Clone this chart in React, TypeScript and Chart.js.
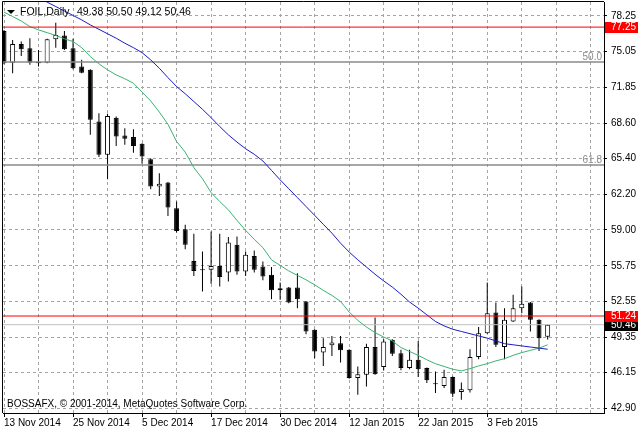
import { useEffect, useRef } from 'react';
import { Chart, registerables } from 'chart.js';

Chart.register(...registerables);

const dates = [
  '13 Nov 2014', '14 Nov 2014', '17 Nov 2014', '18 Nov 2014', '19 Nov 2014', '20 Nov 2014', '21 Nov 2014', '24 Nov 2014',
  '25 Nov 2014', '26 Nov 2014', '27 Nov 2014', '28 Nov 2014', '1 Dec 2014', '2 Dec 2014', '3 Dec 2014', '4 Dec 2014',
  '5 Dec 2014', '8 Dec 2014', '9 Dec 2014', '10 Dec 2014', '11 Dec 2014', '12 Dec 2014', '15 Dec 2014', '16 Dec 2014',
  '17 Dec 2014', '18 Dec 2014', '19 Dec 2014', '22 Dec 2014', '23 Dec 2014', '24 Dec 2014', '26 Dec 2014', '29 Dec 2014',
  '30 Dec 2014', '31 Dec 2014', '2 Jan 2015', '5 Jan 2015', '6 Jan 2015', '7 Jan 2015', '8 Jan 2015', '9 Jan 2015',
  '12 Jan 2015', '13 Jan 2015', '14 Jan 2015', '15 Jan 2015', '16 Jan 2015', '19 Jan 2015', '20 Jan 2015', '21 Jan 2015',
  '22 Jan 2015', '23 Jan 2015', '26 Jan 2015', '27 Jan 2015', '28 Jan 2015', '29 Jan 2015', '30 Jan 2015', '2 Feb 2015',
  '3 Feb 2015', '4 Feb 2015', '5 Feb 2015', '6 Feb 2015', '9 Feb 2015', '10 Feb 2015', '11 Feb 2015', '12 Feb 2015',
];

const opens = [
  76.9, 74.05, 75.73, 75.34, 74.1, 74.05, 76.15, 76.5, 75.34, 73.7, 73.4, 68.75, 65.75, 69.1, 67.5, 67.35,
  66.75, 65.35, 62.9, 63.25, 60.95, 59.05, 56.2, 55.45, 55.4, 55.75, 55.15, 57.65, 55.25, 56.65, 55.7, 54.95,
  53.55, 53.8, 53.8, 52.55, 50.0, 47.95, 48.6, 48.8, 48.2, 45.65, 45.95, 48.45, 46.65, 49.1, 47.9, 46.55,
  47.3, 46.55, 45.15, 44.95, 45.75, 44.4, 44.55, 47.55, 49.7, 51.55, 48.45, 50.75, 51.95, 52.45, 50.9, 49.38,
];
const highs = [
  77.0, 76.1, 75.95, 76.25, 75.2, 76.2, 77.65, 76.9, 76.2, 74.3, 73.45, 69.5, 69.45, 69.2, 68.15, 68.05,
  66.8, 65.45, 64.1, 63.3, 61.55, 59.45, 58.65, 57.05, 58.85, 58.65, 58.35, 58.4, 57.05, 57.15, 56.15, 55.65,
  54.25, 53.85, 55.1, 52.6, 50.05, 49.25, 49.45, 49.45, 48.25, 46.7, 48.75, 51.1, 49.15, 49.15, 48.2, 48.2,
  49.0, 46.6, 46.25, 46.4, 45.8, 45.25, 48.25, 50.25, 54.25, 52.45, 51.95, 53.15, 53.9, 52.5, 50.95, 50.5,
];
const lows = [
  73.9, 73.1, 74.65, 73.85, 73.7, 74.0, 75.4, 75.2, 73.45, 73.1, 67.55, 65.55, 63.55, 66.55, 66.65, 65.95,
  64.95, 62.65, 62.05, 60.25, 58.75, 57.25, 54.85, 53.45, 54.15, 53.9, 54.35, 54.95, 54.85, 55.15, 54.45, 52.75,
  52.7, 52.4, 51.95, 49.6, 47.45, 46.75, 47.65, 47.05, 45.6, 44.15, 44.9, 45.95, 46.35, 47.65, 46.35, 46.45,
  45.75, 45.2, 44.3, 44.75, 43.95, 43.7, 44.35, 47.35, 49.65, 48.45, 47.35, 50.7, 51.5, 49.85, 48.1, 49.12,
];
const closes = [
  74.0, 75.73, 75.25, 74.05, 74.0, 76.15, 76.55, 75.25, 73.55, 73.15, 68.9, 65.75, 69.25, 67.4, 67.2, 66.55,
  65.6, 62.9, 63.15, 61.0, 58.9, 57.65, 55.3, 55.35, 55.75, 54.75, 57.85, 55.25, 56.75, 55.4, 54.8, 53.55,
  53.75, 52.45, 52.75, 49.85, 48.05, 48.45, 48.85, 48.15, 45.65, 46.0, 48.45, 46.0, 48.95, 47.85, 46.55, 47.3,
  46.45, 45.45, 45.1, 45.75, 44.25, 44.65, 47.55, 49.7, 51.5, 48.65, 50.9, 51.95, 52.35, 50.9, 49.25, 50.46,
];

const maFast = [
  78.6, 78.2, 77.8, 77.3, 77.0, 76.75, 76.5, 76.2, 75.95, 75.4, 74.6, 73.95, 73.4, 72.95, 72.6, 72.2,
  71.4, 70.6, 69.6, 68.5, 66.95, 66.0, 64.6, 63.6, 62.35, 61.55, 60.8, 59.85, 58.95, 58.15, 57.4, 56.3,
  55.8, 55.3, 54.9, 54.5, 54.05, 53.55, 53.1, 52.55, 51.6, 50.85, 50.25, 49.75, 49.35, 49.0, 48.4, 48.05,
  47.7, 47.3, 46.95, 46.7, 46.45, 46.3, 46.5, 46.75, 46.95, 47.2, 47.4, 47.7, 47.95, 48.15, 48.35, 48.65,
];
const maSlow = [
  81.5, 81.1, 80.7, 80.3, 79.9, 79.5, 79.1, 78.7, 78.3, 77.9, 77.45, 77.05, 76.65, 76.25, 75.8, 75.4,
  74.95, 74.3, 73.55, 72.7, 71.9, 71.25, 70.55, 69.85, 69.1, 68.3, 67.55, 66.9, 66.3, 65.8, 65.2, 64.35,
  63.5, 62.7, 61.9, 61.1, 60.3, 59.5, 58.7, 57.8, 57.0, 56.3, 55.65, 55.0, 54.4, 53.85, 53.2, 52.5,
  51.95, 51.35, 50.75, 50.35, 50.05, 49.85, 49.65, 49.45, 49.25, 49.0, 48.75, 48.65, 48.55, 48.45, 48.35, 48.25,
];

const yTicks = [78.25, 75.05, 71.85, 68.6, 65.4, 62.2, 59.0, 55.75, 52.55, 49.35, 46.15, 42.9];

const symbolTitle = 'FOIL,Daily';
const titleValues = '49.38 50.50 49.12 50.46';
const copyright = 'BOSSAFX, © 2001-2014, MetaQuotes Software Corp.';

const resistanceHigh = 77.25;
const resistanceLow = 51.24;
const bidPrice = 50.46;
const fibLevels = [
  { label: '50.0', value: 74.1 },
  { label: '61.8', value: 64.83 },
];

const Y_MIN = 42.51;
const Y_MAX = 79.51;
const X_MIN = -0.116;
const X_MAX = 69.53;
const FONT = 'Liberation Sans';
const GRID = '#a4a4a4';

export default function App() {
  const ref = useRef<HTMLCanvasElement | null>(null);

  useEffect(() => {
    const canvas = ref.current;
    if (!canvas) return;
    Chart.defaults.font.family = FONT;

    const idx = dates.map((_, i) => i);
    const bodies = idx.map((i) => ({ x: i, y: [Math.min(opens[i], closes[i]), Math.max(opens[i], closes[i])] }));
    const wicks = idx.map((i) => ({ x: i, y: [lows[i], highs[i]] }));
    const bodyColors = idx.map((i) => (closes[i] > opens[i] ? '#ffffff' : '#000000'));
    const hline = (v: number) => [
      { x: X_MIN - 2, y: v },
      { x: X_MAX + 2, y: v },
    ];

    const overlay = {
      id: 'overlay',
      beforeDraw(chart: any) {
        const c = chart.ctx;
        c.save();
        c.fillStyle = '#ffffff';
        c.fillRect(0, 0, chart.width, chart.height);
        c.restore();
      },
      afterDraw(chart: any) {
        const c = chart.ctx;
        const area = chart.chartArea;
        const yS = chart.scales.y;
        c.save();
        // left and top frame
        c.strokeStyle = '#000';
        c.lineWidth = 1;
        c.beginPath();
        c.moveTo(area.left - 0.5, area.top - 0.5);
        c.lineTo(area.left - 0.5, area.bottom);
        c.moveTo(area.left - 0.5, area.top - 0.5);
        c.lineTo(area.right, area.top - 0.5);
        c.stroke();

        // title
        c.fillStyle = '#000';
        c.beginPath();
        c.moveTo(7, 10);
        c.lineTo(15, 10);
        c.lineTo(11, 14);
        c.closePath();
        c.fill();
        c.font = `10.5px "${FONT}"`;
        c.textBaseline = 'middle';
        c.textAlign = 'left';
        c.fillText(symbolTitle, 20, 12);
        c.fillText(titleValues, 77, 12);

        // copyright
        c.font = `10px "${FONT}"`;
        c.fillText(copyright, 7, 404);

        // fib labels
        c.fillStyle = '#8c8c8c';
        c.textAlign = 'right';
        fibLevels.forEach((f) => {
          const y = yS.getPixelForValue(f.value);
          c.fillText(f.label, area.right - 2, y - 5);
        });

        // price boxes
        c.textAlign = 'left';
        const box = (v: number, bg: string) => {
          const y = Math.round(yS.getPixelForValue(v));
          c.fillStyle = bg;
          c.fillRect(area.right + 1, y - 5, 33, 11);
          c.fillStyle = '#ffffff';
          c.fillText(v.toFixed(2), area.right + 7, y + 0.5);
        };
        box(bidPrice, '#000000');
        box(resistanceLow, '#ff0000');
        box(resistanceHigh, '#ff0000');
        c.restore();
      },
    };

    const chart = new Chart(canvas, {
      type: 'bar',
      data: {
        datasets: [
          {
            type: 'line',
            data: hline(resistanceHigh),
            borderColor: '#ff0000',
            borderWidth: 1,
            pointRadius: 0,
            order: 0,
          } as any,
          {
            type: 'line',
            data: hline(resistanceLow),
            borderColor: '#ff0000',
            borderWidth: 1,
            pointRadius: 0,
            order: 0,
          } as any,
          {
            type: 'line',
            data: hline(bidPrice),
            borderColor: '#c0c0c0',
            borderWidth: 1,
            pointRadius: 0,
            order: 1,
          } as any,
          ...fibLevels.map(
            (f) =>
              ({
                type: 'line',
                data: hline(f.value),
                borderColor: '#8a8a8a',
                borderWidth: 1.5,
                pointRadius: 0,
                order: 1,
              }) as any
          ),
          {
            type: 'line',
            data: idx.map((i) => ({ x: i, y: maSlow[i] })),
            borderColor: '#1c1cc8',
            borderWidth: 1,
            pointRadius: 0,
            tension: 0,
            order: 0,
          } as any,
          {
            type: 'line',
            data: idx.map((i) => ({ x: i, y: maFast[i] })),
            borderColor: '#3cb371',
            borderWidth: 1,
            pointRadius: 0,
            tension: 0,
            order: 0,
          } as any,
          {
            type: 'bar',
            data: bodies,
            backgroundColor: bodyColors,
            borderColor: '#000000',
            borderWidth: 1,
            borderSkipped: false,
            grouped: false,
            maxBarThickness: 5,
            minBarLength: 1,
            order: 2,
          } as any,
          {
            type: 'bar',
            data: wicks,
            backgroundColor: '#000000',
            borderWidth: 0,
            grouped: false,
            maxBarThickness: 1,
            order: 3,
          } as any,
        ],
      },
      options: {
        responsive: false,
        animation: false,
        devicePixelRatio: 1,
        events: [],
        layout: { padding: { left: 3, top: 2, right: 0, bottom: 0 } },
        plugins: { legend: { display: false }, tooltip: { enabled: false }, title: { display: false } },
        scales: {
          x: {
            type: 'linear',
            position: 'bottom',
            min: X_MIN,
            max: X_MAX,
            offset: false,
            afterBuildTicks: (s: any) => {
              const t = [];
              for (let v = 0; v <= 68; v += 4) t.push({ value: v });
              s.ticks = t;
            },
            afterFit: (s: any) => {
              s.height = 18;
              s.paddingLeft = 0;
              s.paddingRight = 0;
              s.paddingTop = 0;
              s.paddingBottom = 0;
            },
            grid: {
              offset: false,
              color: GRID,
              lineWidth: 1,
              tickLength: 4,
              tickColor: (ctx: any) => {
                const v = ctx.tick ? ctx.tick.value : -1;
                return v % 8 === 0 && v < dates.length ? '#000000' : 'rgba(0,0,0,0)';
              },
            },
            border: { display: true, color: '#000000', width: 1, dash: [3, 3] },
            ticks: {
              autoSkip: false,
              maxRotation: 0,
              minRotation: 0,
              align: 'start',
              padding: 0,
              color: '#000000',
              font: { family: FONT, size: 10 },
              callback: (v: any) => (v % 8 === 0 && v < dates.length ? dates[v] : ''),
            },
          } as any,
          y: {
            type: 'linear',
            position: 'right',
            min: Y_MIN,
            max: Y_MAX,
            afterBuildTicks: (s: any) => {
              s.ticks = yTicks.map((v) => ({ value: v }));
            },
            afterFit: (s: any) => {
              s.width = 36;
              s.paddingLeft = 0;
              s.paddingRight = 0;
              s.paddingTop = 0;
              s.paddingBottom = 0;
            },
            grid: { color: GRID, lineWidth: 1, tickLength: 3, tickColor: '#000000' },
            border: { display: true, color: '#000000', width: 1, dash: [3, 3] },
            ticks: {
              padding: 4,
              color: '#000000',
              font: { family: FONT, size: 10 },
              callback: (v: any) => Number(v).toFixed(2),
            },
          } as any,
        },
      },
      plugins: [overlay],
    } as any);

    return () => chart.destroy();
  }, []);

  return (
    <div style={{ position: 'fixed', left: 0, top: 0, width: 640, height: 431, background: '#fff' }}>
      <canvas ref={ref} width={640} height={431} style={{ display: 'block' }} />
    </div>
  );
}
